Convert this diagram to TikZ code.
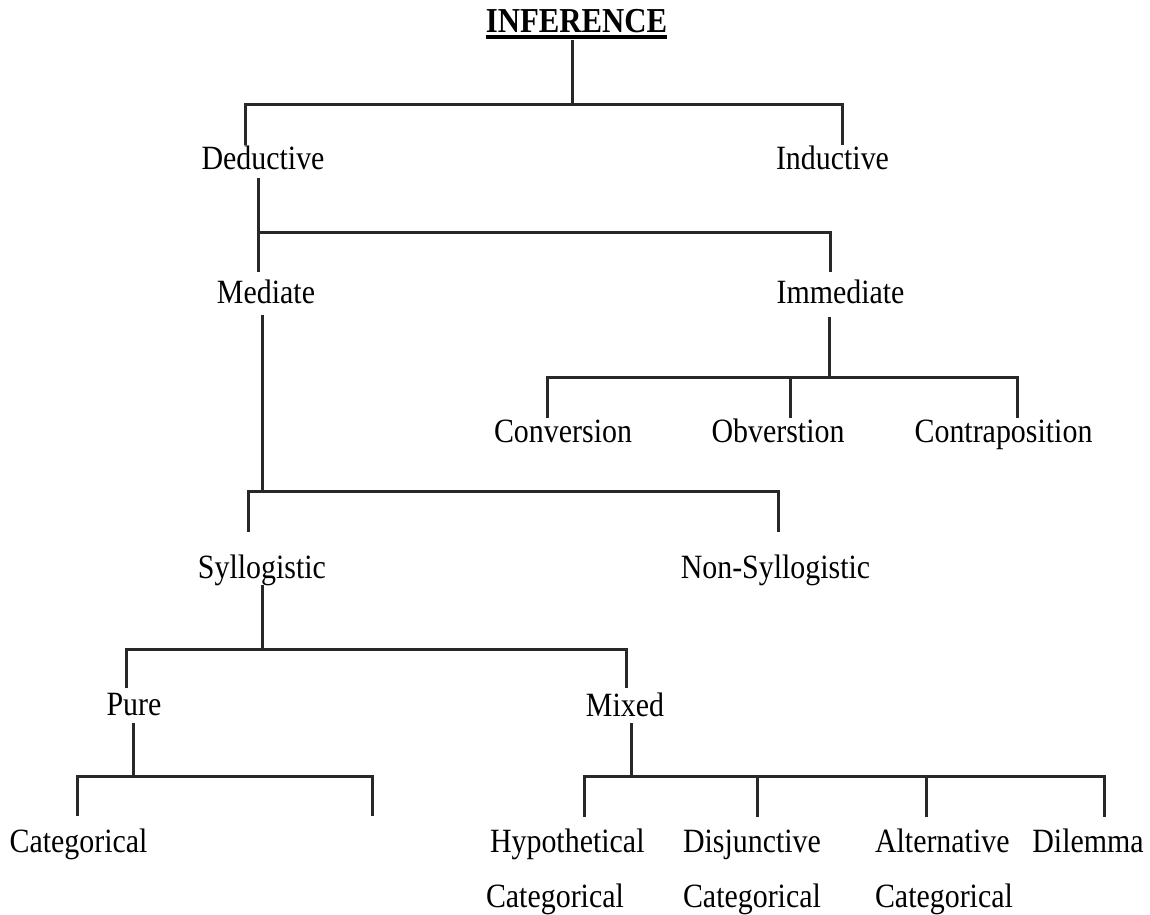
\documentclass[tikz,border=0pt]{standalone}
\usepackage{fontspec}
\setmainfont{Liberation Serif}[FakeStretch=0.88]
\definecolor{linec}{RGB}{40,40,40}
\tikzset{
  lbl/.style={anchor=base, inner sep=0pt, outer sep=0pt, font=\fontsize{34}{40}\selectfont, text=black},
  ttl/.style={anchor=base, inner sep=0pt, outer sep=0pt, font=\fontsize{35}{42}\selectfont\bfseries, text=black},
  conn/.style={draw=linec, line width=3pt, line join=miter},
  uline/.style={draw=black, line width=4pt}
}
\begin{document}
\begin{tikzpicture}[x=1pt, y=-1pt]
\useasboundingbox (0,0) rectangle (1150,914);
% ---- text nodes ----
\node[ttl] (inf) at (576.5,32) {INFERENCE};
\node[lbl] (ded) at (263,169) {Deductive};
\node[lbl] (ind) at (832.5,169) {Inductive};
\node[lbl] (med) at (266,303) {Mediate};
\node[lbl] (imm) at (840.5,303) {Immediate};
\node[lbl] (conv) at (563,442) {Conversion};
\node[lbl] (obv) at (778,442) {Obverstion};
\node[lbl] (contra) at (1003.5,442) {Contraposition};
\node[lbl] (syl) at (262,578) {Syllogistic};
\node[lbl] (nsyl) at (775.5,578) {Non-Syllogistic};
\node[lbl] (pure) at (134,715) {Pure};
\node[lbl] (mixed) at (625,716) {Mixed};
\node[lbl] (cat) at (78.5,852) {Categorical};
\node[lbl, anchor=base west] (hyp) at (490,852) {Hypothetical};
\node[lbl, anchor=base west] (hypc) at (486,907) {Categorical};
\node[lbl, anchor=base west] (dis) at (683,852) {Disjunctive};
\node[lbl, anchor=base west] (disc) at (683,907) {Categorical};
\node[lbl, anchor=base west] (alt) at (875,852) {Alternative};
\node[lbl, anchor=base west] (altc) at (875,907) {Categorical};
\node[lbl] (dil) at (1088,852) {Dilemma};
% underline of the title
\draw[uline] ([yshift=-5pt]inf.base west) -- ([yshift=-5pt]inf.base east);
% ---- fork 1: Inference ----
\coordinate (s1) at (572,40);
\coordinate (b1) at (0,104);
\coordinate (d1a) at (245,145);
\coordinate (d1b) at (842,145);
\draw[conn] (s1) -- (s1 |- b1);
\draw[conn] (d1a) -- (d1a |- b1) -- (d1b |- b1) -- (d1b);
% ---- fork 2: Deductive ----
\coordinate (s2) at (258,178);
\coordinate (b2) at (0,232);
\coordinate (d2a) at (258,272);
\coordinate (d2b) at (830,272);
\draw[conn] (s2) -- (d2a);
\draw[conn] (s2 |- b2) -- (d2b |- b2) -- (d2b);
% ---- fork 3: Immediate ----
\coordinate (s3) at (829,317);
\coordinate (b3) at (0,377);
\coordinate (d3a) at (547,418);
\coordinate (d3b) at (790,418);
\coordinate (d3c) at (1017,418);
\draw[conn] (s3) -- (s3 |- b3);
\draw[conn] (d3a) -- (d3a |- b3) -- (d3c |- b3) -- (d3c);
\draw[conn] (d3b |- b3) -- (d3b);
% ---- fork 4: Mediate ----
\coordinate (s4) at (262,315);
\coordinate (b4) at (0,491);
\coordinate (d4a) at (248,532);
\coordinate (d4b) at (778,532);
\draw[conn] (s4) -- (s4 |- b4);
\draw[conn] (d4a) -- (d4a |- b4) -- (d4b |- b4) -- (d4b);
% ---- fork 5: Syllogistic ----
\coordinate (s5) at (262,585);
\coordinate (b5) at (0,649);
\coordinate (d5a) at (126,688);
\coordinate (d5b) at (626,688);
\draw[conn] (s5) -- (s5 |- b5);
\draw[conn] (d5a) -- (d5a |- b5) -- (d5b |- b5) -- (d5b);
% ---- fork 6: Pure ----
\coordinate (s6) at (133,723);
\coordinate (b6) at (0,776);
\coordinate (d6a) at (77,816);
\coordinate (d6b) at (372,816);
\draw[conn] (s6) -- (s6 |- b6);
\draw[conn] (d6a) -- (d6a |- b6) -- (d6b |- b6) -- (d6b);
% ---- fork 7: Mixed ----
\coordinate (s7) at (631,723);
\coordinate (b7) at (0,776);
\coordinate (d7a) at (584,817);
\coordinate (d7b) at (757,817);
\coordinate (d7c) at (926,817);
\coordinate (d7d) at (1104,817);
\draw[conn] (s7) -- (s7 |- b7);
\draw[conn] (d7a) -- (d7a |- b7) -- (d7d |- b7) -- (d7d);
\draw[conn] (d7b |- b7) -- (d7b);
\draw[conn] (d7c |- b7) -- (d7c);
\end{tikzpicture}
\end{document}
